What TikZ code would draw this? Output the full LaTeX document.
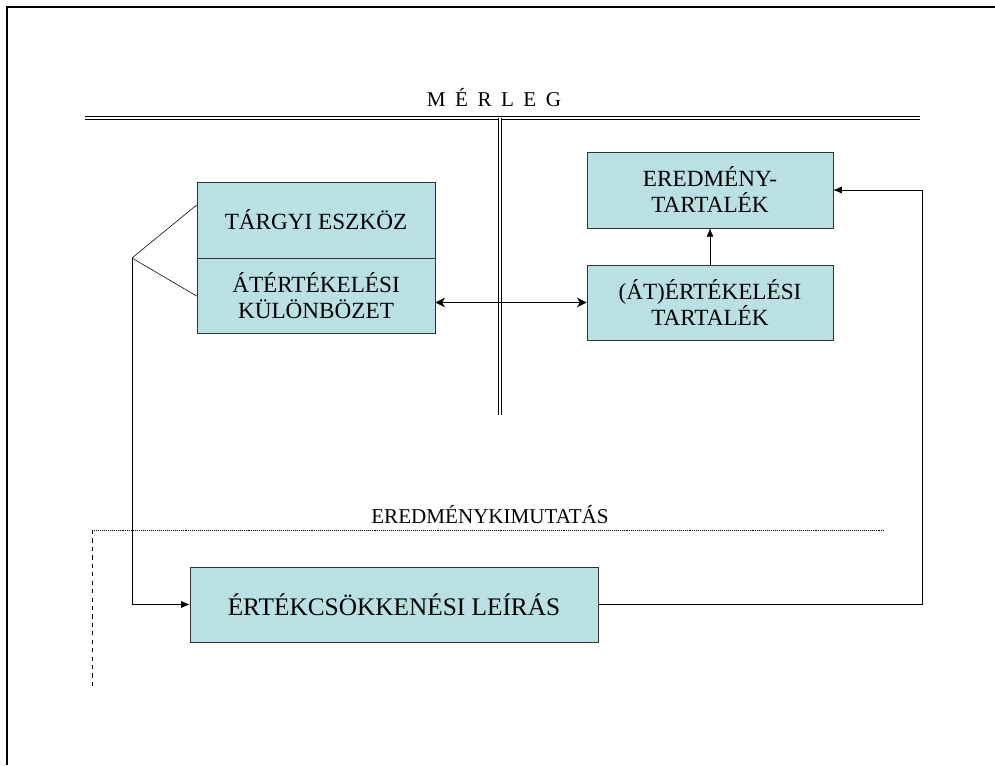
\documentclass[tikz,border=0pt]{standalone}
\usepackage{fontspec}
\setmainfont{Liberation Serif}
\newfontfamily\spacedfont[LetterSpace=45]{Liberation Serif}
\usetikzlibrary{positioning,arrows.meta}
\definecolor{boxfill}{RGB}{186,224,227}

\begin{document}
\begin{tikzpicture}[x=0.025cm,y=-0.025cm,
  box/.style={draw=black!80,fill=boxfill,inner sep=0pt,align=center,
    font=\fontsize{16.5}{18.5}\selectfont},
  arr/.style={-{Latex[length=6pt,width=5pt]}},
  dbl/.style={{Stealth[length=7pt,width=7pt]}-{Stealth[length=7pt,width=7pt]}}]
\useasboundingbox (0,0) rectangle (995,765);

% frame
\draw[line width=1.5pt] (7,765) -- (7,7) -- (995,7);

% balance sheet
\node (merleg) at (494,98) {\fontsize{15}{18}\spacedfont MÉRLEG};
\draw[double,double distance=1.5pt] (85,118) -- (920,118);
\draw[double,double distance=1.5pt] (500,118) -- (500,415);

\node[box,minimum width=5.95cm,minimum height=1.9cm] (targy) at (316,220) {TÁRGYI ESZKÖZ};
\node[box,minimum width=5.95cm,minimum height=1.875cm,below=0pt of targy] (atert) {ÁTÉRTÉKELÉSI\\KÜLÖNBÖZET};
\node[box,minimum width=6.15cm,minimum height=1.9cm] (eredm) at (710,190) {EREDMÉNY-\\TARTALÉK};
\node[box,minimum width=6.15cm,minimum height=1.875cm] (ateres) at (710,302.5) {(ÁT)ÉRTÉKELÉSI\\TARTALÉK};

\draw[arr] (ateres.north) -- (eredm.south);
\draw[dbl] (atert.east |- ateres.west) -- (ateres.west);

% income statement
\node (kimut) at (490,515) {\fontsize{15}{18}\selectfont EREDMÉNYKIMUTATÁS};
\draw[densely dotted,thin] (92,530) -- (885,530);
\draw[dashed,thin] (92,530) -- (92,690);

\node[box,minimum width=10.2cm,minimum height=1.875cm,font=\fontsize{18}{20}\selectfont] (leiras) at (394,604.5) {ÉRTÉKCSÖKKENÉSI LEÍRÁS};

\coordinate (split) at (132,258);
\coordinate (rt) at (922,190);
\draw (split) -- ([yshift=0.375cm]targy.west);
\draw (split) -- (atert.west);
\draw[arr] (split) |- (leiras.west);
\draw[arr] (leiras.east) -| (rt) -- (eredm.east);
\end{tikzpicture}
\end{document}
